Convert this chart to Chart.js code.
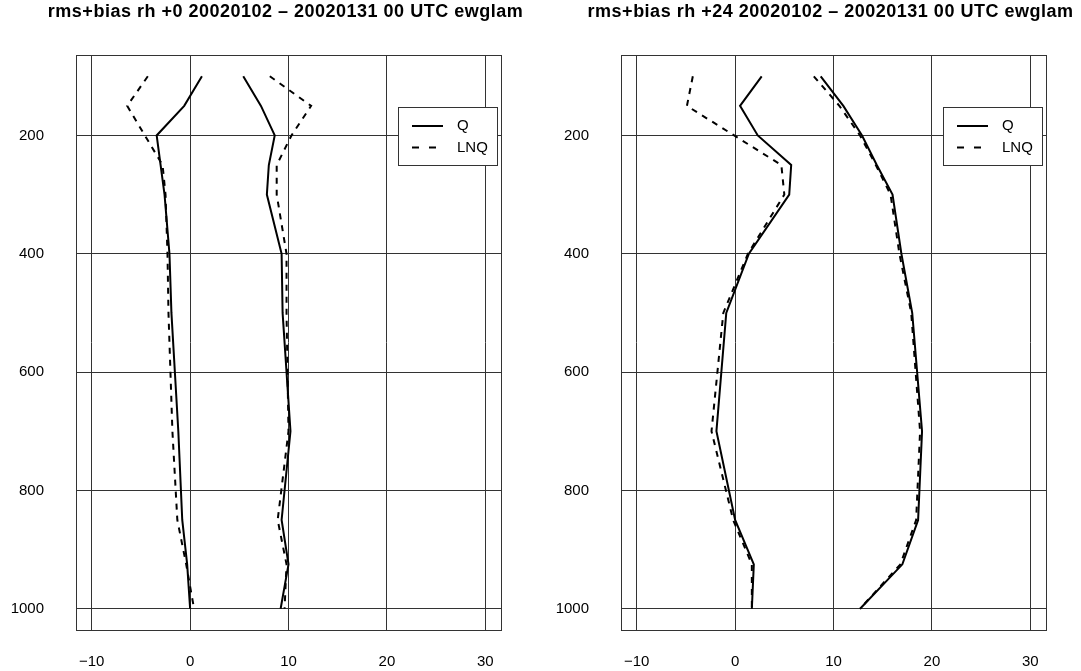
<!DOCTYPE html>
<html>
<head>
<meta charset="utf-8">
<script src="https://cdn.jsdelivr.net/npm/chart.js@4.4.1/dist/chart.umd.min.js"></script>
<style>
  html, body { margin: 0; padding: 0; background: #fff; }
  #wrap { position: relative; width: 1081px; height: 671px; }
  canvas { position: absolute; top: 0; }
  #chartLeft { left: 0; }
  #chartRight { left: 541px; }
</style>
</head>
<body>
<div id="wrap">
  <canvas id="chartLeft" width="541" height="671"></canvas>
  <canvas id="chartRight" width="540" height="671"></canvas>
</div>
<script>
// pressure levels (hPa)
const levels = [100, 150, 200, 250, 300, 400, 500, 700, 850, 925, 1000];

// +0 h
const qBias0   = [1.2, -0.6, -3.4, -3.0, -2.6, -2.1, -1.9, -1.2, -0.8, -0.3, 0.0];
const lnqBias0 = [-4.3, -6.4, -4.6, -2.8, -2.5, -2.3, -2.2, -1.8, -1.3, -0.4, 0.4];
const qRms0    = [5.4, 7.2, 8.6, 8.0, 7.8, 9.3, 9.4, 10.2, 9.3, 10.0, 9.2];
const lnqRms0  = [8.1, 12.3, 10.3, 8.8, 8.8, 9.8, 9.8, 10.0, 8.9, 9.8, 9.6];

// +24 h
const qBias24   = [2.7, 0.5, 2.3, 5.7, 5.5, 1.4, -0.9, -1.9, 0.0, 1.9, 1.7];
const lnqBias24 = [-4.3, -4.9, -0.1, 4.7, 5.0, 1.3, -1.2, -2.4, -0.2, 1.7, 1.7];
const qRms24    = [8.7, 11.0, 12.9, 14.4, 16.0, 16.9, 18.0, 19.0, 18.6, 17.0, 12.7];
const lnqRms24  = [8.0, 10.6, 12.7, 14.3, 15.8, 16.7, 17.9, 18.8, 18.4, 16.8, 12.7];

const xTicks = [-10, 0, 10, 20, 30];
const yTicks = [200, 400, 600, 800, 1000];

const FONT = '"Liberation Sans", Arial, Helvetica, sans-serif';

function toPoints(xs) {
    return xs.map((v, i) => ({ x: v, y: levels[i] }));
}

function lineSet(label, xs, dashed) {
    return {
        label: label,
        data: toPoints(xs),
        showLine: true,
        borderColor: '#000',
        backgroundColor: '#000',
        borderWidth: 2,
        borderDash: dashed ? [6, 6] : [],
        pointRadius: 0,
        tension: 0,
        fill: false
    };
}

// box around the plot region
const frame = {
    id: 'frame',
    afterDraw(chart) {
        const { ctx, chartArea: a } = chart;
        ctx.save();
        ctx.strokeStyle = '#333';
        ctx.lineWidth = 1;
        ctx.strokeRect(Math.round(a.left) + 0.5, Math.round(a.top) + 0.5,
            Math.round(a.right - a.left), Math.round(a.bottom - a.top));
        ctx.restore();
    }
};

// title centred over the plot region
const panelTitle = {
    id: 'panelTitle',
    afterDraw(chart, args, opts) {
        const { ctx, chartArea: a } = chart;
        ctx.save();
        ctx.font = 'bold 18px ' + FONT;
        ctx.letterSpacing = '0.5px';
        ctx.fillStyle = '#000';
        ctx.textAlign = 'center';
        ctx.textBaseline = 'middle';
        ctx.fillText(opts.text, (a.left + a.right) / 2 - 3, 12);
        ctx.restore();
    }
};

// boxed legend in the top right corner
const legendBox = {
    id: 'legendBox',
    afterDraw(chart) {
        const { ctx, chartArea: a } = chart;
        const seen = {};
        const items = [];
        chart.data.datasets.forEach(ds => {
            if (!seen[ds.label]) { seen[ds.label] = true; items.push(ds); }
        });
        const w = 99, h = 58;
        const right = Math.round(a.right) - 4;
        const left = right - w;
        const top = Math.round(a.top) + 52;
        ctx.save();
        ctx.fillStyle = '#fff';
        ctx.fillRect(left, top, w, h);
        ctx.strokeStyle = '#333';
        ctx.lineWidth = 1;
        ctx.strokeRect(left + 0.5, top + 0.5, w, h);
        ctx.font = '15px ' + FONT;
        ctx.textBaseline = 'middle';
        ctx.textAlign = 'left';
        items.forEach((ds, i) => {
            const y = top + 19 + i * 21.5;
            ctx.strokeStyle = '#000';
            ctx.lineWidth = 2;
            ctx.setLineDash(ds.borderDash.length ? [7, 10] : []);
            ctx.beginPath();
            ctx.moveTo(left + 14, y);
            ctx.lineTo(left + 45, y);
            ctx.stroke();
            ctx.setLineDash([]);
            ctx.fillStyle = '#000';
            ctx.fillText(ds.label, left + 59, y);
        });
        ctx.restore();
    }
};

function makeConfig(title, sets, yWidth, rightPad) {
    return {
        type: 'scatter',
        data: { datasets: sets },
        options: {
            responsive: false,
            animation: false,
            devicePixelRatio: 1,
            layout: { padding: { left: 0, right: rightPad, top: 55, bottom: 0 } },
            plugins: {
                legend: { display: false },
                tooltip: { enabled: false },
                panelTitle: { text: title }
            },
            scales: {
                x: {
                    type: 'linear',
                    min: -11.6,
                    max: 31.6,
                    afterBuildTicks: s => { s.ticks = xTicks.map(v => ({ value: v })); },
                    afterFit: s => { s.height = 38; },
                    grid: { color: '#333', lineWidth: 1, drawTicks: false },
                    border: { display: false },
                    ticks: {
                        color: '#000',
                        font: { family: FONT, size: 15 },
                        padding: 23,
                        autoSkip: false,
                        maxRotation: 0,
                        callback: v => String(v).replace('-', '\u2212')
                    }
                },
                y: {
                    type: 'linear',
                    reverse: true,
                    min: 64,
                    max: 1036,
                    afterBuildTicks: s => { s.ticks = yTicks.map(v => ({ value: v })); },
                    afterFit: s => { s.width = yWidth; },
                    grid: { color: '#333', lineWidth: 1, drawTicks: false },
                    border: { display: false },
                    ticks: {
                        color: '#000',
                        font: { family: FONT, size: 15 },
                        padding: 32,
                        autoSkip: false,
                        callback: v => String(v)
                    }
                }
            }
        },
        plugins: [frame, panelTitle, legendBox]
    };
}

new Chart(document.getElementById('chartLeft'), makeConfig(
    'rms+bias rh +0 20020102 \u2013 20020131 00 UTC ewglam',
    [lineSet('Q', qBias0, false), lineSet('Q', qRms0, false),
     lineSet('LNQ', lnqBias0, true), lineSet('LNQ', lnqRms0, true)],
    76, 40
));

new Chart(document.getElementById('chartRight'), makeConfig(
    'rms+bias rh +24 20020102 \u2013 20020131 00 UTC ewglam',
    [lineSet('Q', qBias24, false), lineSet('Q', qRms24, false),
     lineSet('LNQ', lnqBias24, true), lineSet('LNQ', lnqRms24, true)],
    80, 35
));
</script>
</body>
</html>
